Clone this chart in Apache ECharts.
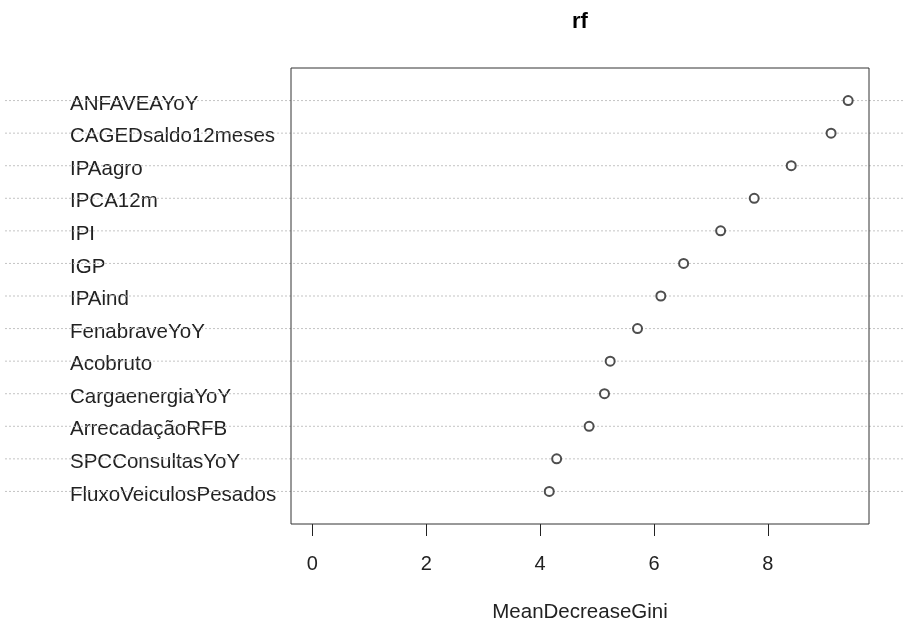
<!DOCTYPE html>
<html>
<head>
<meta charset="utf-8">
<script src="https://cdn.jsdelivr.net/npm/echarts@6/dist/echarts.min.js"></script>
<style>
  html, body { margin: 0; padding: 0; background: #fff; overflow: hidden; }
  #main { width: 913px; height: 622px; }
</style>
</head>
<body>
<div id="main"></div>
<script>
// variaveis, de baixo para cima (ordem do dotchart)
var variaveis = [
    'FluxoVeiculosPesados', 'SPCConsultasYoY', 'ArrecadaçãoRFB', 'CargaenergiaYoY',
    'Acobruto', 'FenabraveYoY', 'IPAind', 'IGP', 'IPI', 'IPCA12m',
    'IPAagro', 'CAGEDsaldo12meses', 'ANFAVEAYoY'
];
// MeanDecreaseGini
var gini = [4.16, 4.29, 4.86, 5.13, 5.23, 5.71, 6.12, 6.52, 7.17, 7.76, 8.41, 9.11, 9.41];
var xTicks = [0, 2, 4, 6, 8];

var fonte = '"Liberation Sans", Arial, sans-serif';

// pontos: [valor, linha]
var pontos = gini.map(function(v, i) { return [v, i + 1]; });

// linhas pontilhadas, uma por variavel, atravessando a figura toda
var linhas = variaveis.map(function(nome, i) {
    return {
        type: 'line',
        xAxisIndex: 1,
        yAxisIndex: 1,
        symbol: 'none',
        silent: true,
        z: 1,
        lineStyle: { color: '#c4c4c4', width: 1, type: [2, 2] },
        data: [[0, i + 1], [1, i + 1]]
    };
});

var option = {
    backgroundColor: '#fff',
    animation: false,
    title: {
        text: 'rf',
        left: 575,
        top: 6,
        textAlign: 'center',
        textStyle: { fontFamily: fonte, fontSize: 22, fontWeight: 'bold', color: '#000' }
    },
    grid: [
        { left: 291, width: 578, top: 68, height: 456, outerBoundsMode: 'none', show: true, borderColor: '#333', borderWidth: 1, backgroundColor: 'transparent', z: 3 },
        { left: 5, width: 900, top: 68, height: 456, outerBoundsMode: 'none' },
        // so para os nomes (um pouco abaixo das linhas, como no R)
        { left: 291, width: 578, top: 71.5, height: 456, outerBoundsMode: 'none' }
    ],
    xAxis: [
        {
            type: 'value',
            gridIndex: 0,
            min: -0.376,
            max: 9.776,
            name: 'MeanDecreaseGini',
            nameLocation: 'middle',
            nameGap: 78,
            nameTextStyle: { fontFamily: fonte, fontSize: 20.5, color: '#222' },
            axisLine: { show: false },
            axisTick: { show: true, length: 12, customValues: xTicks, lineStyle: { color: '#222' } },
            axisLabel: { customValues: xTicks, margin: 30, fontFamily: fonte, fontSize: 20, color: '#222' },
            splitLine: { show: false }
        },
        { type: 'value', gridIndex: 1, min: 0, max: 1, show: false },
        { type: 'value', gridIndex: 2, min: 0, max: 1, show: false }
    ],
    yAxis: [
        {
            type: 'value',
            gridIndex: 0,
            min: 0,
            max: 14,
            show: false
        },
        { type: 'value', gridIndex: 1, min: 0, max: 14, show: false },
        {
            type: 'value',
            gridIndex: 2,
            min: 0,
            max: 14,
            interval: 1,
            axisLine: { show: false },
            axisTick: { show: false },
            splitLine: { show: false },
            axisLabel: {
                align: 'left',
                margin: 221,
                fontFamily: fonte,
                fontSize: 20.5,
                color: '#222',
                formatter: function(v) { return variaveis[v - 1] || ''; }
            }
        }
    ],
    series: linhas.concat([{
        type: 'scatter',
        xAxisIndex: 0,
        yAxisIndex: 0,
        symbol: 'emptyCircle',
        symbolSize: 9,
        z: 5,
        itemStyle: { color: '#222', borderColor: '#222', borderWidth: 1.3 },
        data: pontos
    }])
};

var chart = echarts.init(document.getElementById('main'), null, { width: 913, height: 622 });
chart.setOption(option);
</script>
</body>
</html>
